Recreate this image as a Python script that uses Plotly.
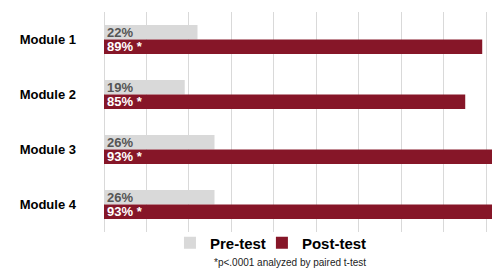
import plotly.graph_objects as go

modules = ["Module 1", "Module 2", "Module 3", "Module 4"]
pre_values = [22, 19, 26, 26]
post_values = [89, 85, 93, 93]
pre_labels = ["22%", "19%", "26%", "26%"]
post_labels = ["89% *", "85% *", "93% *", "93% *"]

PRE_COLOR = "#d9d9d9"
POST_COLOR = "#861628"

fig = go.Figure()
fig.add_trace(go.Bar(
    y=modules, x=pre_values, orientation="h", name="Pre-test",
    marker=dict(color=PRE_COLOR, line=dict(width=0)),
    text=pre_labels, textposition="inside", insidetextanchor="start",
    constraintext="none", cliponaxis=True,
    textfont=dict(family="Liberation Sans, Arial", size=13, color="#555555", weight="bold"),
    hoverinfo="skip", legend="legend",
))
fig.add_trace(go.Bar(
    y=modules, x=post_values, orientation="h", name="Post-test",
    marker=dict(color=POST_COLOR, line=dict(width=0)),
    text=post_labels, textposition="inside", insidetextanchor="start",
    constraintext="none", cliponaxis=True,
    textfont=dict(family="Liberation Sans, Arial", size=13, color="white", weight="bold"),
    hoverinfo="skip", legend="legend2",
))

legend_common = dict(
    orientation="h", y=-0.05, yanchor="middle", xanchor="left",
    font=dict(size=15, weight="bold", color="black"),
    itemwidth=30, bgcolor="rgba(0,0,0,0)",
)

fig.update_layout(
    width=492, height=268,
    margin=dict(l=104, r=0, t=12, b=36, autoexpand=False),
    paper_bgcolor="white", plot_bgcolor="white",
    barmode="group", bargap=0.47, bargroupgap=0,
    font=dict(family="Liberation Sans, Arial", color="black"),
    legend=dict(x=0.170, **legend_common),
    legend2=dict(x=0.407, **legend_common),
    showlegend=True,
    annotations=[dict(
        text="*p<.0001 analyzed by paired t-test", xref="paper", yref="paper",
        x=0.48, y=-0.14, xanchor="center", yanchor="middle", showarrow=False,
        font=dict(size=10, color="#222222"),
    )],
)
fig.update_xaxes(
    range=[0, 91.3], dtick=10, showgrid=True, gridcolor="#d9d9d9", gridwidth=1,
    showticklabels=False, zeroline=True, zerolinecolor="#d9d9d9", zerolinewidth=1,
    showline=False, fixedrange=True, automargin=False,
)
fig.update_yaxes(
    autorange="reversed", showgrid=False, showline=False, ticks="",
    tickfont=dict(size=13, weight="bold", color="black"),
    ticklabelstandoff=27, fixedrange=True, automargin=False,
)

fig.write_html(
    "out.html",
    config={"displayModeBar": False},
    post_script="document.body.style.margin='0';document.body.style.overflow='hidden';",
)
